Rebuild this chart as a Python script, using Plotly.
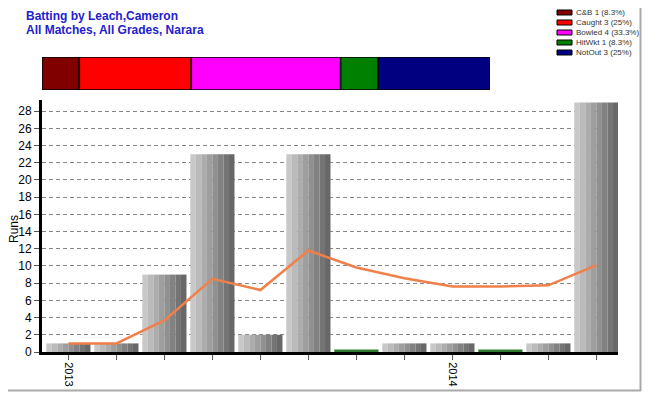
import plotly.graph_objects as go

# ---- data ----
innings = list(range(12))
runs = [1, 1, 9, 23, 2, 23, 0, 1, 1, 0, 1, 29]
average = [1.0, 1.0, 3.67, 8.5, 7.2, 11.8, 9.83, 8.57, 7.63, 7.63, 7.75, 10.11]
tick_labels = ["2013", "", "", "", "", "", "", "", "2014", "", "", ""]

dismissal_names = ["C&B 1 (8.3%)", "Caught 3 (25%)", "Bowled 4 (33.3%)", "HitWkt 1 (8.3%)", "NotOut 3 (25%)"]
dismissal_counts = [1, 3, 4, 1, 3]
dismissal_colors = ["#800000", "#FF0000", "#FF00FF", "#008000", "#000080"]

title_lines = ["Batting by Leach,Cameron", "All Matches, All Grades, Narara"]

# ---- layout constants (pixels, page coordinates; page body has an 8px margin) ----
OFF = 8
W, H = 650 - 2 * OFF, 400 - 2 * OFF
PL, PR, PT, PB = 42, 618, 57, 352          # plot area in page pixels
L, T = PL - OFF, PT - OFF
R, B = W - (PR - OFF), H - (PB - OFF)
pw, ph = W - L - R, H - T - B


def px(xp):
    return (xp - PL) / pw


def py(yp):
    return (PB - yp) / ph


fig = go.Figure()

# striped gradient bars
shades = ["#c8c8c8", "#bababa", "#acacac", "#9e9e9e", "#909090", "#828282", "#747474", "#686868"]
bw = 0.92
sw = bw / len(shades)
for k, c in enumerate(shades):
    fig.add_trace(go.Bar(
        x=[i - bw / 2 + (k + 0.5) * sw for i in innings], y=runs, width=sw,
        marker=dict(color=c, line=dict(width=0)), showlegend=False, hoverinfo="skip",
        xaxis="x", yaxis="y"))

# duck markers (zero scores)
fig.add_trace(go.Bar(
    x=innings, y=[0.3 if v == 0 else None for v in runs], width=bw,
    marker=dict(color="#2f7a2f", line=dict(width=0)), showlegend=False,
    xaxis="x", yaxis="y"))

# average line
fig.add_trace(go.Scatter(
    x=innings, y=average, mode="lines", line=dict(color="#F0804A", width=2.5),
    showlegend=False, xaxis="x", yaxis="y"))

# dismissal breakdown bar
cum = 0
for name, cnt, col in zip(dismissal_names, dismissal_counts, dismissal_colors):
    fig.add_trace(go.Bar(
        y=[0], x=[cnt], base=[cum], orientation="h", width=1, name=name,
        marker=dict(color=col, line=dict(color="black", width=1.5)),
        showlegend=False, xaxis="x2", yaxis="y2"))
    cum += cnt

# custom legend
shapes = []
annotations = []
for j, (name, col) in enumerate(zip(dismissal_names, dismissal_colors)):
    yc = 12.5 + j * 10
    shapes.append(dict(type="rect", xref="paper", yref="paper",
                       x0=px(557), x1=px(572), y0=py(yc - 2.5), y1=py(yc + 2.5),
                       fillcolor=col, line=dict(color="black", width=1)))
    annotations.append(dict(text=name, xref="paper", yref="paper",
                            x=px(574), y=py(yc), xanchor="left", yanchor="middle",
                            showarrow=False, font=dict(size=8, color="#333")))

for j, line in enumerate(title_lines):
    annotations.append(dict(
        text="<b>" + line + "</b>", xref="paper", yref="paper",
        x=px(25), y=py(8 + j * 13.5), xanchor="left", yanchor="top",
        showarrow=False, borderpad=0, font=dict(size=12, color="#2222CC")))

annotations.append(dict(
    text="Runs", xref="paper", yref="paper", x=px(14), y=py(229),
    xanchor="center", yanchor="middle", textangle=-90, showarrow=False,
    font=dict(size=12, color="black")))

# frame on the right and bottom edges of the figure
shapes += [
    dict(type="line", xref="paper", yref="paper",
         x0=px(640.5), x1=px(640.5), y0=py(8), y1=py(391),
         line=dict(color="#aaaaaa", width=2)),
    dict(type="line", xref="paper", yref="paper",
         x0=px(8), x1=px(641), y0=py(390.5), y1=py(390.5),
         line=dict(color="#aaaaaa", width=2)),
]

main_top = py(100)
bar_bot = py(90)

fig.update_layout(
    width=W, height=H,
    margin=dict(l=L, r=R, t=T, b=B, autoexpand=False),
    paper_bgcolor="white", plot_bgcolor="white",
    barmode="overlay", showlegend=False,
    font=dict(family="Liberation Sans, Arial, sans-serif", size=12, color="black"),
    xaxis=dict(domain=[0, 1], range=[-0.55, 11.45], tickmode="array",
               tickvals=innings, ticktext=tick_labels, tickangle=90,
               showline=True, linecolor="black", linewidth=3, automargin=False,
               ticks="outside", ticklen=5, tickcolor="#555", showgrid=False,
               zeroline=False, tickfont=dict(size=11)),
    yaxis=dict(domain=[0, main_top], range=[0, 29.3], dtick=2, automargin=False,
               showline=True, linecolor="black", linewidth=3,
               ticks="outside", ticklen=5, tickcolor="#555",
               showgrid=True, gridcolor="#888", griddash="4px,3px", gridwidth=1,
               zeroline=False, tickfont=dict(size=12)),
    xaxis2=dict(domain=[0, px(490)], range=[0, 12], visible=False, anchor="y2"),
    yaxis2=dict(domain=[bar_bot, 1], range=[-0.5, 0.5], visible=False, anchor="x2"),
    annotations=annotations,
    shapes=shapes,
)

fig.write_html("out.html")
